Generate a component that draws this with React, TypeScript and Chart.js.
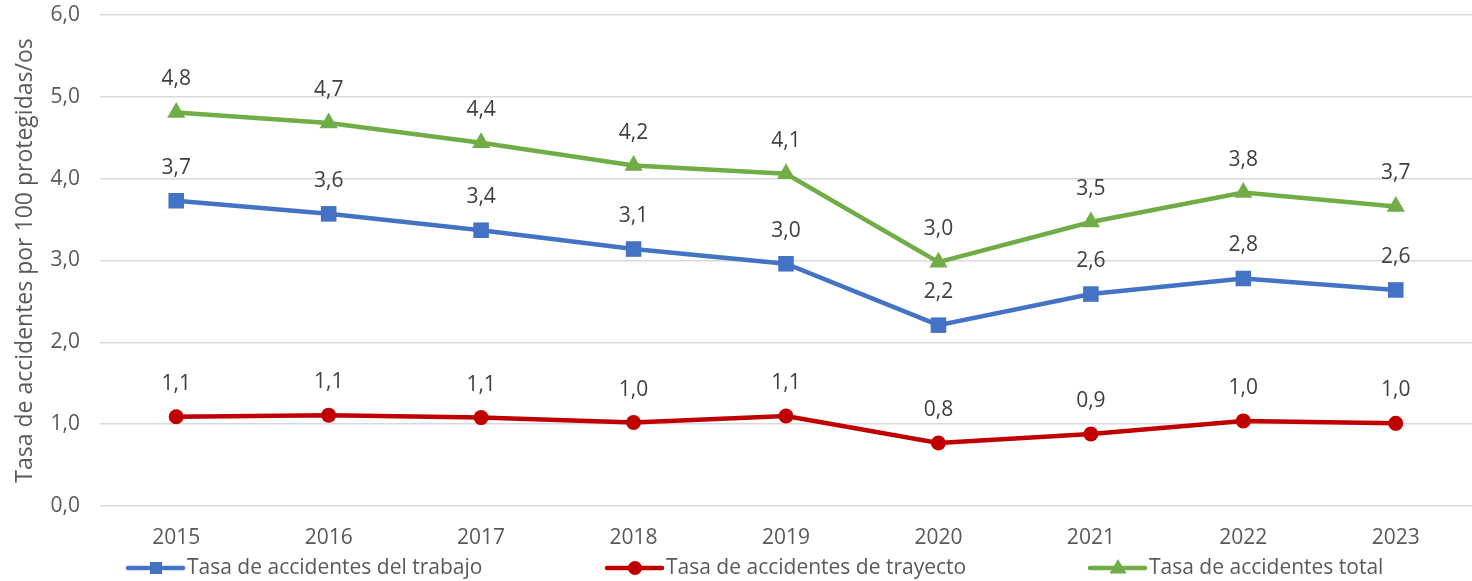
import React, { useEffect, useRef } from "react";
import { Chart, registerables } from "chart.js";

Chart.register(...registerables);

const categories = ["2015", "2016", "2017", "2018", "2019", "2020", "2021", "2022", "2023"];
const trabajo = [3.73, 3.57, 3.37, 3.14, 2.96, 2.21, 2.59, 2.78, 2.64];
const trayecto = [1.09, 1.11, 1.08, 1.02, 1.1, 0.77, 0.88, 1.04, 1.01];
const total = [4.81, 4.68, 4.44, 4.16, 4.06, 2.98, 3.47, 3.83, 3.66];
const seriesNames = [
  "Tasa de accidentes del trabajo",
  "Tasa de accidentes de trayecto",
  "Tasa de accidentes total",
];
const yTitle = "Tasa de accidentes por 100 protegidas/os";

const BLUE = "#4472C4";
const RED = "#C00000";
const GREEN = "#70AD47";
const TEXT = "#595959";
const FONT = "'Open Sans', sans-serif";
const FS = 21;

const fmt = (v: number) => v.toFixed(1).replace(".", ",");

function drawMarker(ctx: CanvasRenderingContext2D, style: string, r: number, x: number, y: number) {
  ctx.beginPath();
  if (style === "rect") {
    ctx.rect(x - r, y - r, 2 * r, 2 * r);
  } else if (style === "circle") {
    ctx.arc(x, y, r, 0, Math.PI * 2);
  } else {
    ctx.moveTo(x, y - r);
    ctx.lineTo(x + r * 0.95, y + r * 0.6);
    ctx.lineTo(x - r * 0.95, y + r * 0.6);
    ctx.closePath();
  }
  ctx.fill();
}

const labelPlugin = {
  id: "valueLabels",
  afterDatasetsDraw(chart: any) {
    const ctx = chart.ctx;
    ctx.save();
    ctx.font = `${FS}px ${FONT}`;
    ctx.fillStyle = "#404040";
    ctx.textAlign = "center";
    ctx.textBaseline = "middle";
    chart.data.datasets.forEach((ds: any, i: number) => {
      const meta = chart.getDatasetMeta(i);
      meta.data.forEach((pt: any, j: number) => {
        ctx.fillText(fmt(ds.data[j]), pt.x, pt.y - 33);
      });
    });
    ctx.restore();
  },
};

const legendPlugin = {
  id: "customLegend",
  afterDraw(chart: any) {
    const ctx = chart.ctx;
    const y = 568;
    const starts = [128, 607, 1090];
    const styles = ["rect", "circle", "triangle"];
    const radii = [6, 7, 9];
    ctx.save();
    chart.data.datasets.forEach((ds: any, i: number) => {
      const x0 = starts[i];
      ctx.strokeStyle = ds.borderColor;
      ctx.lineWidth = 4.5;
      ctx.lineCap = "round";
      ctx.beginPath();
      ctx.moveTo(x0, y);
      ctx.lineTo(x0 + 55, y);
      ctx.stroke();
      ctx.fillStyle = ds.backgroundColor;
      drawMarker(ctx, styles[i], radii[i], x0 + 28, y);
      ctx.fillStyle = TEXT;
      ctx.font = `${FS}px ${FONT}`;
      ctx.textAlign = "left";
      ctx.textBaseline = "middle";
      ctx.fillText(seriesNames[i], x0 + 59, y);
    });
    ctx.restore();
  },
};

export default function App() {
  const ref = useRef<HTMLCanvasElement>(null);
  useEffect(() => {
    document.body.style.margin = "0";
    const chart = new Chart(ref.current!, {
      type: "line",
      data: {
        labels: categories,
        datasets: [
          {
            label: seriesNames[0],
            data: trabajo,
            borderColor: BLUE,
            backgroundColor: BLUE,
            borderWidth: 4.5,
            pointStyle: "rect",
            pointRadius: 11,
            pointBorderWidth: 0,
          },
          {
            label: seriesNames[1],
            data: trayecto,
            borderColor: RED,
            backgroundColor: RED,
            borderWidth: 4.5,
            pointStyle: "circle",
            pointRadius: 7.5,
            pointBorderWidth: 0,
          },
          {
            label: seriesNames[2],
            data: total,
            borderColor: GREEN,
            backgroundColor: GREEN,
            borderWidth: 4.5,
            pointStyle: "triangle",
            pointRadius: 10.5,
            pointBorderWidth: 0,
          },
        ],
      },
      options: {
        animation: false,
        responsive: true,
        maintainAspectRatio: false,
        layout: { autoPadding: false, padding: { top: 15, right: 0, left: 0, bottom: 0 } },
        plugins: { legend: { display: false }, tooltip: { enabled: false } },
        scales: {
          x: {
            offset: true,
            grid: { display: false, drawTicks: false },
            border: { display: false },
            ticks: { color: TEXT, font: { family: FONT, size: FS }, padding: 19 },
            afterFit: (s: any) => {
              s.height = 75;
              s.paddingLeft = 0;
              s.paddingRight = 0;
            },
          },
          y: {
            min: 0,
            max: 6,
            ticks: {
              stepSize: 1,
              color: TEXT,
              font: { family: FONT, size: FS },
              padding: 20,
              callback: (v: any) => fmt(Number(v)),
            },
            grid: { color: "#d9d9d9", lineWidth: 1.5, drawTicks: false },
            border: { display: false },
            title: {
              display: true,
              text: yTitle,
              color: TEXT,
              font: { family: FONT, size: 23 },
              padding: { top: 12, bottom: 0 },
            },
            afterFit: (s: any) => {
              s.width = 100;
              s.paddingTop = 0;
              s.paddingBottom = 0;
            },
          },
        },
      },
      plugins: [labelPlugin, legendPlugin],
    });
    return () => chart.destroy();
  }, []);
  return (
    <div style={{ width: 1472, height: 581, position: "relative" }}>
      <canvas ref={ref} />
    </div>
  );
}
